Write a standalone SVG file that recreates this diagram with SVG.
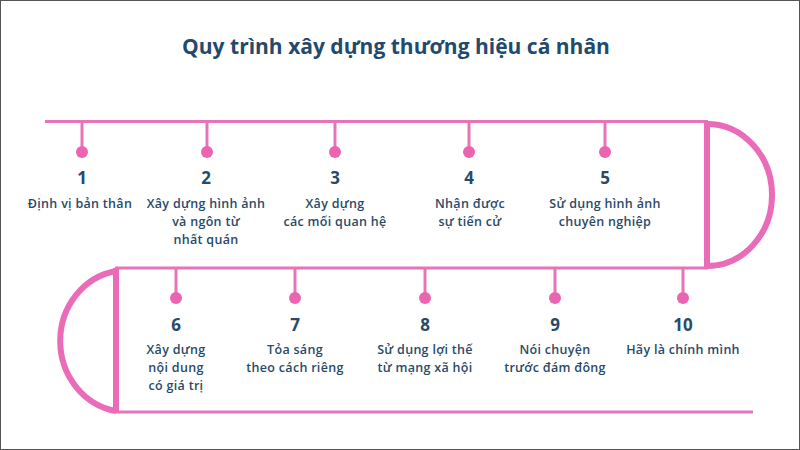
<svg xmlns="http://www.w3.org/2000/svg" width="800" height="450" viewBox="0 0 800 450">
<style>
.ln{fill:none;stroke:#e774b8;stroke-width:3;stroke-linecap:butt}
.thick{fill:none;stroke:#ea6cb8;stroke-width:6}
.tick{stroke:#e774b8;stroke-width:3}
.dot{fill:#ea64b2}
text{font-family:"Open Sans","Noto Sans","DejaVu Sans",sans-serif;fill:#284a68;text-anchor:middle}
.num{font-size:17px;font-weight:700}
.lbl{font-size:12.5px;font-weight:600;letter-spacing:0.3px}
.title{font-size:21px;font-weight:700;fill:#234a6c}
</style>
<rect x="0.5" y="0.5" width="799" height="449" fill="#ffffff" stroke="#555555" stroke-width="1"/>
<text class="title" x="396" y="54">Quy trình xây dựng thương hiệu cá nhân</text>
<g id="connectors">
<line class="ln" x1="45" y1="121.5" x2="708" y2="121.5"/>
<line class="ln" x1="115" y1="268" x2="708" y2="268"/>
<line class="ln" x1="115" y1="412" x2="753" y2="412"/>
<line class="thick" x1="707" y1="121" x2="707" y2="268"/>
<path class="thick" d="M707,124 A65,71 0 0 1 707,266"/>
<line class="thick" x1="116" y1="268" x2="116" y2="413"/>
<path class="thick" d="M116,271 A67,71 0 0 0 116,411"/>
</g>
<g id="step1">
<line class="tick" x1="82" y1="121" x2="82" y2="152"/><circle class="dot" cx="82" cy="152" r="6"/>
<text class="num" x="82" y="184">1</text>
<text class="lbl" x="80" y="208">Định vị bản thân</text>
</g>
<g id="step2">
<line class="tick" x1="207" y1="121" x2="207" y2="152"/><circle class="dot" cx="207" cy="152" r="6"/>
<text class="num" x="206" y="184">2</text>
<text class="lbl" x="206" y="208">Xây dựng hình ảnh</text>
<text class="lbl" x="206" y="226">và ngôn từ</text>
<text class="lbl" x="206" y="244">nhất quán</text>
</g>
<g id="step3">
<line class="tick" x1="335" y1="121" x2="335" y2="152"/><circle class="dot" cx="335" cy="152" r="6"/>
<text class="num" x="335" y="184">3</text>
<text class="lbl" x="335" y="208">Xây dựng</text>
<text class="lbl" x="335" y="226">các mối quan hệ</text>
</g>
<g id="step4">
<line class="tick" x1="469" y1="121" x2="469" y2="152"/><circle class="dot" cx="469" cy="152" r="6"/>
<text class="num" x="469" y="184">4</text>
<text class="lbl" x="470" y="208">Nhận được</text>
<text class="lbl" x="470" y="226">sự tiến cử</text>
</g>
<g id="step5">
<line class="tick" x1="605" y1="121" x2="605" y2="152"/><circle class="dot" cx="605" cy="152" r="6"/>
<text class="num" x="605" y="184">5</text>
<text class="lbl" x="605" y="208">Sử dụng hình ảnh</text>
<text class="lbl" x="605" y="226">chuyên nghiệp</text>
</g>
<g id="step6">
<line class="tick" x1="176" y1="268" x2="176" y2="298"/><circle class="dot" cx="176" cy="298" r="6"/>
<text class="num" x="176" y="331">6</text>
<text class="lbl" x="176" y="354">Xây dựng</text>
<text class="lbl" x="176" y="372">nội dung</text>
<text class="lbl" x="176" y="390">có giá trị</text>
</g>
<g id="step7">
<line class="tick" x1="295" y1="268" x2="295" y2="298"/><circle class="dot" cx="295" cy="298" r="6"/>
<text class="num" x="295" y="331">7</text>
<text class="lbl" x="295" y="354">Tỏa sáng</text>
<text class="lbl" x="295" y="372">theo cách riêng</text>
</g>
<g id="step8">
<line class="tick" x1="425" y1="268" x2="425" y2="298"/><circle class="dot" cx="425" cy="298" r="6"/>
<text class="num" x="425" y="331">8</text>
<text class="lbl" x="425" y="354">Sử dụng lợi thế</text>
<text class="lbl" x="425" y="372">từ mạng xã hội</text>
</g>
<g id="step9">
<line class="tick" x1="555" y1="268" x2="555" y2="298"/><circle class="dot" cx="555" cy="298" r="6"/>
<text class="num" x="555" y="331">9</text>
<text class="lbl" x="555" y="354">Nói chuyện</text>
<text class="lbl" x="555" y="372">trước đám đông</text>
</g>
<g id="step10">
<line class="tick" x1="683" y1="268" x2="683" y2="298"/><circle class="dot" cx="683" cy="298" r="6"/>
<text class="num" x="683" y="331">10</text>
<text class="lbl" x="683" y="354">Hãy là chính mình</text>
</g>
</svg>
